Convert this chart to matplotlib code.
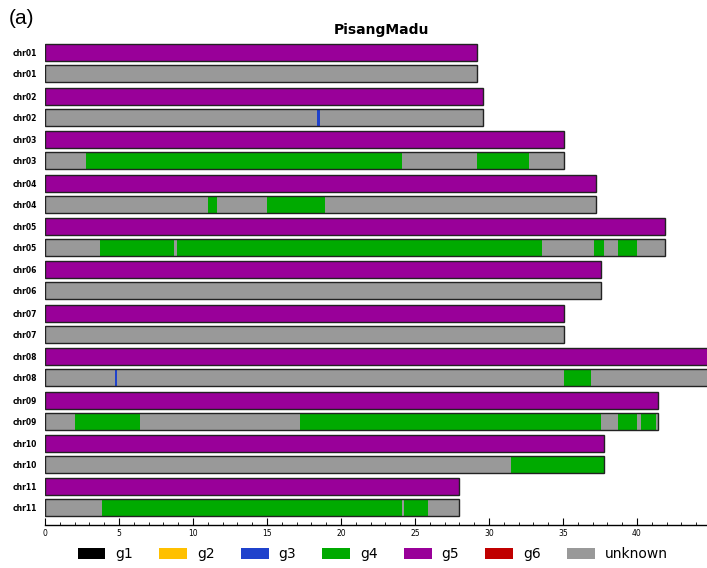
import matplotlib.pyplot as plt
import matplotlib.patches as mpatches

# chromosome names and lengths (Mb)
chroms = ['chr01', 'chr02', 'chr03', 'chr04', 'chr05', 'chr06',
          'chr07', 'chr08', 'chr09', 'chr10', 'chr11']
lengths = [29.2, 29.6, 35.1, 37.2, 41.9, 37.6, 35.1, 45.0, 41.4, 37.8, 28.0]

# top haplotype: whole chromosome is g5
top_group = 'g5'

# bottom haplotype: assigned blocks (start, end, group), rest is unknown
bottom_blocks = {
    'chr01': [],
    'chr02': [(18.4, 18.6, 'g3')],
    'chr03': [(2.75, 24.1, 'g4'), (29.2, 32.7, 'g4')],
    'chr04': [(11.0, 11.6, 'g4'), (15.0, 18.95, 'g4')],
    'chr05': [(3.7, 8.75, 'g4'), (8.93, 33.6, 'g4'), (37.1, 37.8, 'g4'), (38.7, 40.0, 'g4')],
    'chr06': [],
    'chr07': [],
    'chr08': [(4.75, 4.9, 'g3'), (35.1, 36.9, 'g4')],
    'chr09': [(2.0, 6.4, 'g4'), (17.25, 37.6, 'g4'), (38.7, 40.0, 'g4'), (40.3, 41.3, 'g4')],
    'chr10': [(31.5, 37.8, 'g4')],
    'chr11': [(3.85, 24.15, 'g4'), (24.25, 25.9, 'g4')],
}

groups = ['g1', 'g2', 'g3', 'g4', 'g5', 'g6', 'unknown']
colors = {'g1': '#000000', 'g2': '#FFC000', 'g3': '#1F42CC', 'g4': '#00AA00',
          'g5': '#990099', 'g6': '#C00000', 'unknown': '#999999'}

fig = plt.figure(figsize=(7.07, 5.68), dpi=100)
ax = fig.add_axes([0.0636, 0.0757, 0.9364, 0.854])

pair_gap = 2.067
row_gap = 1.0
h = 0.81

yticks = []
ylabels = []
for i, (name, L) in enumerate(zip(chroms, lengths)):
    y_top = i * pair_gap
    y_bot = y_top + row_gap
    # top row
    ax.broken_barh([(0, L)], (y_top - h / 2, h), facecolors=colors[top_group])
    # bottom row: unknown background then blocks
    ax.broken_barh([(0, L)], (y_bot - h / 2, h), facecolors=colors['unknown'])
    for s, e, g in bottom_blocks[name]:
        ax.broken_barh([(s, e - s)], (y_bot - h / 2, h), facecolors=colors[g])
    # outlines
    for y in (y_top, y_bot):
        ax.add_patch(mpatches.Rectangle((0, y - h / 2), L, h, fill=False,
                                        edgecolor='#222222', linewidth=1.0))
    yticks += [y_top, y_bot]
    ylabels += [name, name]

ax.set_xlim(0, 44.73)
ax.set_ylim(21.67 + 0.81, -0.62)
ax.set_yticks(yticks)
ax.set_yticklabels(ylabels, fontsize=5.5, fontweight='bold')
ax.tick_params(axis='y', length=0, pad=6)

ax.set_xticks(range(0, 45, 5))
ax.set_xticks(range(0, 45), minor=True)
ax.tick_params(axis='x', which='major', direction='in', length=5, labelsize=5.5, pad=3)
ax.tick_params(axis='x', which='minor', direction='in', length=2.5)
for side in ('top', 'right', 'left'):
    ax.spines[side].set_visible(False)
ax.spines['bottom'].set_linewidth(1.0)

fig.text(0.539, 0.947, 'PisangMadu', fontsize=10, fontweight='bold', ha='center', va='center')
fig.text(0.012, 0.968, '(a)', fontsize=15, ha='left', va='center', family='Liberation Sans')

handles = [mpatches.Patch(facecolor=colors[g], edgecolor='none', label=g) for g in groups]
fig.legend(handles=handles, loc='center', bbox_to_anchor=(0.527, 0.024), ncol=7,
           frameon=False, fontsize=10, handlelength=2.0, handleheight=0.75,
           columnspacing=1.9, handletextpad=0.7)

fig.savefig('out.png', dpi=100)
